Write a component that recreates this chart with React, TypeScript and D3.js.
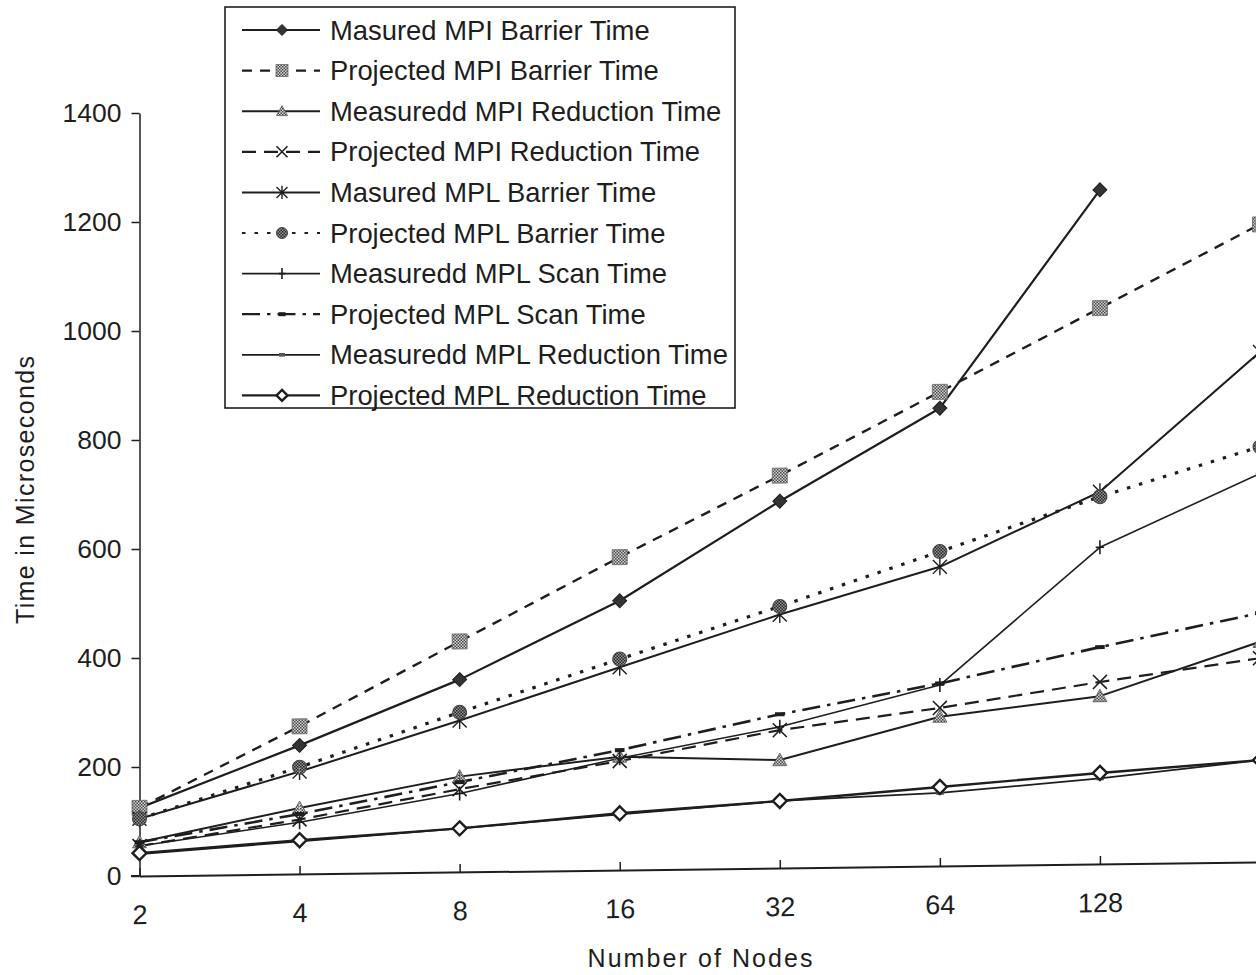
import React, { useEffect, useRef } from 'react';
import * as d3 from 'd3';

// x categories (number of nodes) and y ticks
const nodes = ['2', '4', '8', '16', '32', '64', '128', '256'];
const yTicks = [0, 200, 400, 600, 800, 1000, 1200, 1400];

// times in microseconds
const mpiBarrierMeasured = [125, 236, 353, 494, 673, 840, 1237, null];
const mpiBarrierProjected = [125, 271, 423, 574, 720, 870, 1020, 1170];
const mpiReductionMeasured = [62, 121, 175, 208, 198, 274, 308, 404];
const mpiReductionProjected = [55, 100, 152, 200, 253, 290, 334, 374];
const mplBarrierMeasured = [105, 188, 278, 372, 465, 549, 683, 936];
const mplBarrierProjected = [105, 196, 293, 387, 480, 577, 674, 762];
const mplScanMeasured = [55, 95, 144, 205, 259, 332, 581, 713];
const mplScanProjected = [62, 110, 165, 220, 282, 335, 398, 457];
const mplReductionMeasured = [40, 60, 80, 102, 123, 134, 157, 187];
const mplReductionProjected = [42, 62, 80, 104, 123, 145, 167, 187];

type Marker = 'diamondFilled' | 'square' | 'triangle' | 'x' | 'asterisk' | 'circle' | 'plus' | 'dash' | 'tick' | 'diamondOpen';

interface Series {
  name: string;
  values: (number | null)[];
  dash: string | null;
  width: number;
  marker: Marker;
}

const series: Series[] = [
  { name: 'Masured MPI Barrier Time', values: mpiBarrierMeasured, dash: null, width: 2.2, marker: 'diamondFilled' },
  { name: 'Projected MPI Barrier Time', values: mpiBarrierProjected, dash: '10,8', width: 2.4, marker: 'square' },
  { name: 'Measuredd MPI Reduction Time', values: mpiReductionMeasured, dash: null, width: 2, marker: 'triangle' },
  { name: 'Projected MPI Reduction Time', values: mpiReductionProjected, dash: '14,8', width: 2.2, marker: 'x' },
  { name: 'Masured MPL Barrier Time', values: mplBarrierMeasured, dash: null, width: 2, marker: 'asterisk' },
  { name: 'Projected MPL Barrier Time', values: mplBarrierProjected, dash: '3.5,9', width: 3.2, marker: 'circle' },
  { name: 'Measuredd MPL Scan Time', values: mplScanMeasured, dash: null, width: 1.6, marker: 'plus' },
  { name: 'Projected MPL Scan Time', values: mplScanProjected, dash: '18,7,3.5,7', width: 2.6, marker: 'dash' },
  { name: 'Measuredd MPL Reduction Time', values: mplReductionMeasured, dash: null, width: 1.8, marker: 'tick' },
  { name: 'Projected MPL Reduction Time', values: mplReductionProjected, dash: null, width: 2.4, marker: 'diamondOpen' },
];

const INK = '#1e1e1e';
const FONT = '"Liberation Sans", Arial, Helvetica, sans-serif';

function drawMarker(g: d3.Selection<SVGGElement, unknown, null, undefined>, type: Marker, cx: number, cy: number, s: number) {
  switch (type) {
    case 'diamondFilled':
      g.append('path')
        .attr('d', `M${cx},${cy - s}L${cx + s},${cy}L${cx},${cy + s}L${cx - s},${cy}Z`)
        .attr('fill', '#333').attr('stroke', INK).attr('stroke-width', 1);
      break;
    case 'diamondOpen':
      g.append('path')
        .attr('d', `M${cx},${cy - s}L${cx + s},${cy}L${cx},${cy + s}L${cx - s},${cy}Z`)
        .attr('fill', '#fff').attr('stroke', INK).attr('stroke-width', 2.4);
      break;
    case 'square':
      g.append('rect')
        .attr('x', cx - s).attr('y', cy - s).attr('width', 2 * s).attr('height', 2 * s)
        .attr('fill', 'url(#hatch)').attr('stroke', '#666').attr('stroke-width', 0.8);
      break;
    case 'triangle':
      g.append('path')
        .attr('d', `M${cx},${cy - s}L${cx + s},${cy + s * 0.8}L${cx - s},${cy + s * 0.8}Z`)
        .attr('fill', 'url(#hatch)').attr('stroke', '#555').attr('stroke-width', 0.8);
      break;
    case 'circle':
      g.append('circle')
        .attr('cx', cx).attr('cy', cy).attr('r', s)
        .attr('fill', 'url(#hatchDark)').attr('stroke', '#444').attr('stroke-width', 1);
      break;
    case 'x':
      g.append('path')
        .attr('d', `M${cx - s},${cy - s}L${cx + s},${cy + s}M${cx + s},${cy - s}L${cx - s},${cy + s}`)
        .attr('stroke', INK).attr('stroke-width', 1.6).attr('fill', 'none');
      break;
    case 'asterisk':
      g.append('path')
        .attr('d', `M${cx - s},${cy - s}L${cx + s},${cy + s}M${cx + s},${cy - s}L${cx - s},${cy + s}M${cx},${cy - s * 1.2}L${cx},${cy + s * 1.2}`)
        .attr('stroke', INK).attr('stroke-width', 1.4).attr('fill', 'none');
      break;
    case 'plus':
      g.append('path')
        .attr('d', `M${cx},${cy - s}L${cx},${cy + s}M${cx - s * 0.6},${cy}L${cx + s * 0.6},${cy}`)
        .attr('stroke', INK).attr('stroke-width', 1.6).attr('fill', 'none');
      break;
    case 'dash':
      g.append('rect')
        .attr('x', cx - s * 0.6).attr('y', cy - 2).attr('width', s * 1.2).attr('height', 4)
        .attr('fill', INK);
      break;
    case 'tick':
      g.append('rect')
        .attr('x', cx - s * 0.5).attr('y', cy - 1.8).attr('width', s).attr('height', 3.6)
        .attr('fill', '#555');
      break;
  }
}

const App = () => {
  const svgRef = useRef<SVGSVGElement>(null);

  useEffect(() => {
    const svgEl = d3.select(svgRef.current);
    svgEl.selectAll('*').remove();

    const W = 1256;
    const H = 975;
    svgEl.attr('width', W).attr('height', H);

    const defs = svgEl.append('defs');
    const hatch = defs.append('pattern').attr('id', 'hatch')
      .attr('width', 3).attr('height', 3).attr('patternUnits', 'userSpaceOnUse');
    hatch.append('rect').attr('width', 3).attr('height', 3).attr('fill', '#d8d8d8');
    hatch.append('rect').attr('width', 1.5).attr('height', 1.5).attr('fill', '#444');
    hatch.append('rect').attr('x', 1.5).attr('y', 1.5).attr('width', 1.5).attr('height', 1.5).attr('fill', '#444');
    const hatchDark = defs.append('pattern').attr('id', 'hatchDark')
      .attr('width', 3).attr('height', 3).attr('patternUnits', 'userSpaceOnUse');
    hatchDark.append('rect').attr('width', 3).attr('height', 3).attr('fill', '#999');
    hatchDark.append('rect').attr('width', 1.5).attr('height', 1.5).attr('fill', '#222');
    hatchDark.append('rect').attr('x', 1.5).attr('y', 1.5).attr('width', 1.5).attr('height', 1.5).attr('fill', '#222');

    svgEl.append('rect').attr('width', W).attr('height', H).attr('fill', '#fff');

    const x0 = 139.5;
    const x = d3.scalePoint<string>().domain(nodes).range([x0, 1260]);
    const y = d3.scaleLinear().domain([0, 1400]).range([876, 113]);

    // y axis (the scan is not skewed along this edge)
    const yAxis = svgEl.append('g')
      .attr('transform', `translate(${x0},0)`)
      .call(d3.axisLeft(y).tickValues(yTicks).tickFormat(d3.format('d')).tickSize(8).tickSizeOuter(0).tickPadding(10))
      .attr('font-family', FONT)
      .attr('font-size', 26.5)
      .attr('color', INK);
    yAxis.selectAll('line').attr('stroke-width', 1.5);
    yAxis.select('.domain').attr('stroke-width', 1.5);

    // the plot area slopes a little, like the scanned page
    const k = -0.0125;
    const plot = svgEl.append('g')
      .attr('transform', `matrix(1,${k},0,1,0,${-k * x0})`);

    // last category sits on the page edge: its label and tick fall outside the scan
    const lastNode = nodes[nodes.length - 1];
    const xAxis = plot.append('g')
      .attr('transform', 'translate(0,876)')
      .call(d3.axisBottom(x).tickSize(-8).tickSizeOuter(0).tickPadding(29)
        .tickFormat(d => (d === lastNode ? '' : d)))
      .attr('font-family', FONT)
      .attr('font-size', 27)
      .attr('color', INK);
    xAxis.selectAll('line').attr('stroke-width', 1.5);
    xAxis.select('.domain').attr('stroke-width', 2);
    plot.append('line')
      .attr('x1', 131).attr('x2', x0).attr('y1', 876).attr('y2', 876)
      .attr('stroke', INK).attr('stroke-width', 2);

    series.forEach(s => {
      const line = d3.line<number | null>()
        .defined(d => d !== null)
        .x((_, i) => x(nodes[i]) as number)
        .y(d => y(d as number));
      plot.append('path')
        .datum(s.values)
        .attr('d', line)
        .attr('fill', 'none')
        .attr('stroke', INK)
        .attr('stroke-width', s.width)
        .attr('stroke-dasharray', s.dash)
        .attr('stroke-linejoin', 'round');
    });

    series.forEach(s => {
      const g = plot.append('g');
      s.values.forEach((v, i) => {
        if (v === null) return;
        const size = s.marker === 'square' ? 7.5 : s.marker === 'dash' || s.marker === 'tick' ? 8 : 7;
        drawMarker(g, s.marker, x(nodes[i]) as number, y(v), size);
      });
    });

    // axis titles
    svgEl.append('text')
      .attr('transform', 'translate(34,490) rotate(-90)')
      .attr('text-anchor', 'middle')
      .attr('font-family', FONT)
      .attr('font-size', 25)
      .attr('textLength', 268)
      .attr('lengthAdjust', 'spacing')
      .attr('fill', INK)
      .text('Time in Microseconds');

    svgEl.append('text')
      .attr('x', 700)
      .attr('y', 967)
      .attr('text-anchor', 'middle')
      .attr('font-family', FONT)
      .attr('font-size', 25)
      .attr('textLength', 225)
      .attr('lengthAdjust', 'spacing')
      .attr('fill', INK)
      .text('Number of Nodes');

    // legend
    const legend = svgEl.append('g');
    legend.append('rect')
      .attr('x', 225).attr('y', 7).attr('width', 510).attr('height', 401)
      .attr('fill', '#fff').attr('stroke', INK).attr('stroke-width', 1.6);

    series.forEach((s, i) => {
      const ry = 30 + i * 40.6;
      const row = legend.append('g');
      row.append('line')
        .attr('x1', 242).attr('x2', 320).attr('y1', ry).attr('y2', ry)
        .attr('stroke', INK)
        .attr('stroke-width', Math.min(s.width, 2.2))
        .attr('stroke-dasharray', s.dash);
      const size = s.marker === 'square' ? 6 : s.marker === 'dash' || s.marker === 'tick' ? 6 : 5.5;
      drawMarker(row, s.marker, 282, ry, size);
      row.append('text')
        .attr('x', 330).attr('y', ry + 9.5)
        .attr('font-family', FONT)
        .attr('font-size', 27.4)
        .attr('fill', INK)
        .text(s.name);
    });
  }, []);

  return (
    <svg ref={svgRef} style={{ position: 'absolute', left: 0, top: 0, display: 'block' }} />
  );
};

export default App;
